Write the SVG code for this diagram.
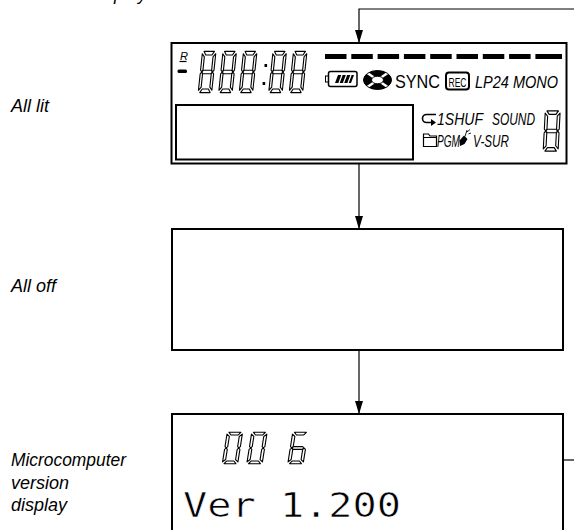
<svg xmlns="http://www.w3.org/2000/svg" xmlns:xlink="http://www.w3.org/1999/xlink" width="574" height="530" viewBox="0 0 574 530">
<style>
.box{fill:none;stroke:#000;stroke-width:2}
.conn{fill:none;stroke:#000;stroke-width:1.2}
.lbl{font-family:"Liberation Sans",Arial,sans-serif;font-style:italic;font-size:18px;fill:#000}
.lcd{font-family:"Liberation Sans",Arial,sans-serif;fill:#000}
.it{font-style:italic}
.seg{fill:#fff;stroke:#000;stroke-width:1.1;vector-effect:non-scaling-stroke;stroke-linejoin:round}
.ver{font-family:"DejaVu Sans Mono","Liberation Mono",monospace;font-size:34px;fill:#000;stroke:#fff;stroke-width:0.6}
</style>
<defs>
<marker id="ah" markerUnits="userSpaceOnUse" markerWidth="13" markerHeight="8" refX="13" refY="4" orient="auto">
<path d="M0,0 L13,4 L0,8 Z" fill="#000"/>
</marker>
<path id="sa" class="seg" d="M1.3,0.2 L8.7,0.2 L7.2,1.9 L2.8,1.9 Z"/>
<path id="sb" class="seg" d="M9.8,1.3 L9.8,9.1 L8.9,9.9 L8.1,9.1 L8.1,2.8 Z"/>
<path id="sc" class="seg" d="M9.8,18.7 L9.8,10.9 L8.9,10.1 L8.1,10.9 L8.1,17.2 Z"/>
<path id="sd" class="seg" d="M1.3,19.8 L8.7,19.8 L7.2,18.1 L2.8,18.1 Z"/>
<path id="se" class="seg" d="M0.2,18.7 L0.2,10.9 L1.1,10.1 L1.9,10.9 L1.9,17.2 Z"/>
<path id="sf" class="seg" d="M0.2,1.3 L0.2,9.1 L1.1,9.9 L1.9,9.1 L1.9,2.8 Z"/>
<path id="sg" class="seg" d="M1.3,10 L2.2,9.15 L7.8,9.15 L8.7,10 L7.8,10.85 L2.2,10.85 Z"/>
<g id="d8"><use xlink:href="#sa"/><use xlink:href="#sb"/><use xlink:href="#sc"/><use xlink:href="#sd"/><use xlink:href="#se"/><use xlink:href="#sf"/><use xlink:href="#sg"/></g>
<g id="d0"><use xlink:href="#sa"/><use xlink:href="#sb"/><use xlink:href="#sc"/><use xlink:href="#sd"/><use xlink:href="#se"/><use xlink:href="#sf"/></g>
<g id="d6"><use xlink:href="#sa"/><use xlink:href="#sc"/><use xlink:href="#sd"/><use xlink:href="#se"/><use xlink:href="#sf"/><use xlink:href="#sg"/></g>
</defs>
<rect width="574" height="530" fill="#fff"/>

<!-- side labels -->
<text class="lbl" x="91" y="-0.5">display</text>
<text class="lbl" x="11" y="112">All lit</text>
<text class="lbl" x="11" y="292">All off</text>
<text class="lbl" x="11" y="466" textLength="115" lengthAdjust="spacingAndGlyphs">Microcomputer</text>
<text class="lbl" x="11" y="489">version</text>
<text class="lbl" x="11" y="511">display</text>

<!-- connectors -->
<g id="connectors">
<path class="conn" d="M574,9 H359 V43" marker-end="url(#ah)"/>
<path class="conn" d="M359,164 V229" marker-end="url(#ah)"/>
<path class="conn" d="M359,350 V414" marker-end="url(#ah)"/>
<path class="conn" d="M563,460 H574"/>
</g>

<!-- node: all lit -->
<g id="node-all-lit">
<rect class="box" x="171.5" y="43" width="395" height="120.5"/>
<rect class="box" x="176" y="105" width="237" height="54.5"/>
<!-- R indicator -->
<text class="lcd it" x="180" y="59.5" font-size="11">R</text>
<line x1="179.5" y1="61.5" x2="186.5" y2="61.5" stroke="#000" stroke-width="1.2"/>
<rect x="177.5" y="69.5" width="9.5" height="3.5" rx="1.5" fill="#000"/>
<!-- digits 888:88 -->
<use xlink:href="#d8" transform="translate(202.3,51) skewX(-6) scale(1.4,2.1)"/>
<use xlink:href="#d8" transform="translate(222.8,51) skewX(-6) scale(1.4,2.1)"/>
<use xlink:href="#d8" transform="translate(243.3,51) skewX(-6) scale(1.4,2.1)"/>
<rect x="264.5" y="64" width="2.6" height="3" fill="#000"/>
<rect x="262.6" y="82" width="2.6" height="3" fill="#000"/>
<use xlink:href="#d8" transform="translate(272.8,51) skewX(-6) scale(1.4,2.1)"/>
<use xlink:href="#d8" transform="translate(293.3,51) skewX(-6) scale(1.4,2.1)"/>
<!-- level bars -->
<g fill="#000">
<rect x="325" y="54" width="21.5" height="5"/>
<rect x="351.3" y="54" width="21.5" height="5"/>
<rect x="377.6" y="54" width="21.5" height="5"/>
<rect x="403.9" y="54" width="21.5" height="5"/>
<rect x="430.2" y="54" width="21.5" height="5"/>
<rect x="456.5" y="54" width="21.5" height="5"/>
<rect x="482.8" y="54" width="21.5" height="5"/>
<rect x="509.1" y="54" width="21.5" height="5"/>
<rect x="535.4" y="54" width="26.6" height="5"/>
</g>
<!-- battery -->
<rect x="325.5" y="76" width="3" height="6" fill="#fff" stroke="#000" stroke-width="1"/>
<rect x="328.5" y="71.5" width="28.5" height="15" rx="2" fill="#fff" stroke="#000" stroke-width="1.5"/>
<path d="M335,83 L338,75 L354,75 L351,83 Z" fill="#000"/>
<g stroke="#fff" stroke-width="1.3">
<line x1="339" y1="83" x2="342" y2="75"/>
<line x1="343.5" y1="83" x2="346.5" y2="75"/>
<line x1="348" y1="83" x2="351" y2="75"/>
</g>
<!-- disc -->
<ellipse cx="377.5" cy="80" rx="14" ry="9.5" fill="#000"/>
<g stroke="#fff" stroke-width="2.4">
<line x1="366" y1="72" x2="389" y2="88"/>
<line x1="366" y1="88" x2="389" y2="72"/>
</g>
<ellipse cx="377.5" cy="80" rx="6" ry="3.8" fill="#fff" stroke="#000" stroke-width="1"/>
<ellipse cx="377.5" cy="80" rx="14" ry="9.5" fill="none" stroke="#000" stroke-width="1"/>
<!-- texts row 1 -->
<text class="lcd" x="395" y="87.5" font-size="18" textLength="45" lengthAdjust="spacingAndGlyphs">SYNC</text>
<rect x="446" y="72.5" width="23" height="17" rx="3" fill="#fff" stroke="#000" stroke-width="2"/>
<text class="lcd" x="448.5" y="86.5" font-size="13.5" textLength="18" lengthAdjust="spacingAndGlyphs">REC</text>
<text class="lcd it" x="475" y="87.5" font-size="16.5" textLength="83" lengthAdjust="spacingAndGlyphs">LP24 MONO</text>
<!-- row 2 icons/text -->
<path d="M436,114.5 H426.5 A4,4 0 0 0 426.5,122.5 H431.5" fill="none" stroke="#000" stroke-width="1.6"/>
<path d="M436,122.5 L431,119 L431,126 Z" fill="#000"/>
<text class="lcd it" x="437" y="125" font-size="16" textLength="46" lengthAdjust="spacingAndGlyphs">1SHUF</text>
<text class="lcd it" x="492" y="125" font-size="16" textLength="43" lengthAdjust="spacingAndGlyphs">SOUND</text>
<path d="M423.5,146.5 V134 H428.5 L430,136 H436.5 V146.5 Z M423.5,137.5 H436.5" fill="none" stroke="#000" stroke-width="1.2"/>
<text class="lcd it" x="437" y="147" font-size="16" textLength="23" lengthAdjust="spacingAndGlyphs">PGM</text>
<path d="M460,146 L459.5,140.5 L464,135.5 L467.5,139 L464.5,144 Z" fill="#000"/>
<path d="M465,136.5 L467,130 M467,132 L470,129.5 M468.5,134 L471,133" fill="none" stroke="#000" stroke-width="0.9"/>
<text class="lcd it" x="473" y="147" font-size="16" textLength="36" lengthAdjust="spacingAndGlyphs">V-SUR</text>
<use xlink:href="#d8" transform="translate(545,110.5) skewX(-3) scale(1.55,2.05)"/>
</g>

<!-- node: all off -->
<g id="node-all-off">
<rect class="box" x="172" y="229" width="391" height="121"/>
</g>

<!-- node: version display -->
<g id="node-version">
<rect class="box" x="172" y="414" width="391" height="130"/>
<use xlink:href="#d0" transform="translate(227,432) skewX(-9) scale(1.6,1.6)"/>
<use xlink:href="#d0" transform="translate(251.5,432) skewX(-9) scale(1.6,1.6)"/>
<use xlink:href="#d6" transform="translate(292.5,432) skewX(-9) scale(1.6,1.6)"/>
<text class="ver" x="183" y="517" textLength="218" lengthAdjust="spacingAndGlyphs">Ver 1.200</text>
</g>
</svg>
